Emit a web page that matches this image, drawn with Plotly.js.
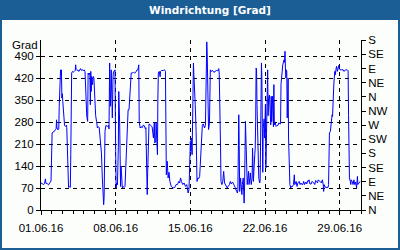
<!DOCTYPE html>
<html>
<head>
<meta charset="utf-8">
<script src="https://cdn.plot.ly/plotly-3.0.1.min.js"></script>
<style>
html,body{margin:0;padding:0;background:#ffffff;}
#chart{width:400px;height:250px;}
</style>
</head>
<body>
<div id="chart"></div>
<script>
// hours since 01.06.2016 00:00
const hours = [0,3,6,8,10,11,14,17,19,21,
22.5,23.5,25,27,30,32,34,35,36,38,
40,41,42,43,44,45,46,47,48,49,
50,51,52,53,55,57,58,60,61,62,
64,66,67,68,69,71,73,75,77,78,
79,81,83,85,87,89,91,93,95,97,
99,100,101,103,105,106,108,110,111,112,
113,114,116,117,118,119,121,123,125,127,
129,131,133,134,136,138,140,141,142,143,
144,146,149,152,153,154.5,156,157,158,159,
160.5,162,163,165,166.5,168,169,170,172,174,
175,176,177,178,179,180,181,183,185,187,
189,191,193,194,196,198,199,200,202,203,
205,208,211,214,216,218,220,221,223,225,
228,230,232,235,236,237,238,239,240,241,
242,243,247,250,253,254,255,256,258,259,
260,262,263,264,266,268,269,271,275,278,
280,281,282,284,286,288,290,293,297,301,
304,307,310,312,314,316,319,322,325,328,
331,333,335,336,337,338,340,341,343,344,
346,347,349,350,351,353,355,357,359,361,
363,365,366,368,370,371,372,373,374,375,
376,377,379,380,381,383,386,389,392,395,
398,400,401,403,404,405,407,409,411,413,
416,419,421,424,426,428,431,434,437,440,
442,443,445,446,447,449,450,452,453,455,
457,458,460,461,463,464,467,468,470,471,
473,475,476,478,479,481,482,483,484,485,
486,488,490,492,493,494,495,496,497,498,
499,500,502,503,505,506,507,508,509,510,
511,512,514,515,517,518,519,521,523,524,
525,527,529,531,533,535,537,539,540,542,
544,545,547,548,549,550,551,552,553,554,
555,556,557,559,560,562,563,566,568,570,
571,574,576,578,581,583,585,587,589,591,
593,596,598,600,601,603,605,608,610,612,
614,616,618,620,622,624,627,629,631,633,
635,636,637,640,643,646,647,648,649,651,
652,653,655,656,657,658,659,661,662,664,
665,667,668,670,671,673,676,680,682,685,
689,691,692,694,696,697,698,700,702,704,
706,708,710,712,713,716,718];

// wind direction in degrees
const direction = [86,83,81,85,99,85,84,80,83,89,
92,197,245,248,250,255,258,287,261,255,
258,330,393,420,446,430,446,356,370,346,
330,319,280,269,266,270,262,165,100,72,
74,72,176,320,436,441,439,441,444,462,
447,444,446,441,446,450,444,447,443,446,
441,409,356,298,282,436,430,436,335,441,
377,425,399,420,425,420,335,300,282,261,
265,262,229,218,181,102,49,17,40,150,
250,269,266,269,258,468,330,377,446,300,
293,420,440,441,446,187,70,85,80,200,
377,346,277,176,75,139,120,70,75,72,
75,144,218,271,319,319,351,377,425,436,
436,438,436,440,446,446,462,282,261,265,
262,270,269,258,262,200,110,49,120,230,
262,274,269,265,229,262,280,213,220,277,
230,176,356,436,441,424,441,444,444,446,
441,197,112,155,102,120,91,75,70,72,
81,81,91,86,102,91,81,86,75,81,
54,65,155,218,187,229,176,399,468,431,
378,335,250,197,91,102,100,107,176,250,
269,274,265,261,270,409,526,535,494,335,
261,256,275,356,446,441,444,438,441,444,
443,450,436,330,197,91,81,91,123,86,
75,70,75,81,91,83,89,81,72,59,
54,65,303,206,59,102,70,49,81,102,
22,70,282,197,102,81,123,81,102,118,
81,102,197,91,123,176,197,282,452,446,
335,218,102,86,91,208,400,468,420,229,
120,260,290,229,335,134,250,280,441,446,
300,356,366,314,271,362,281,362,265,399,
271,277,266,269,269,277,274,274,400,452,
462,468,478,470,505,452,420,446,441,293,
420,420,229,118,81,70,75,75,81,112,
81,91,75,86,91,81,86,81,81,91,
81,89,83,93,91,96,83,83,91,88,
86,81,94,91,86,96,91,91,86,96,
81,59,81,72,72,72,81,176,245,250,
266,287,303,298,335,400,404,441,430,450,
457,441,452,460,452,446,446,446,441,446,
446,443,300,102,91,81,96,91,81,96,
81,89,70,107,81,86,91];

const leftTicks = [0,70,140,210,280,350,420,490];
const compassVals = [0,45,90,135,180,225,270,315,360,405,450,495,540];
const compassText = ["N","NE","E","SE","S","SW","W","NW","N","NE","E","SE","S"];
const titleText = "Windrichtung [Grad]";
const unitText = "Grad";

const startMs = Date.UTC(2016,5,1,0,0,0);
function toStr(ms){ return new Date(ms).toISOString().slice(0,19).replace('T',' '); }
const xs = hours.map(h => toStr(startMs + h*3600000));

const yr = [0, 541];
const font = {family:"Liberation Sans, Arial, sans-serif", size:11.5, color:"#000000"};

const trace = {
  x: xs, y: direction, type: 'scatter', mode: 'lines',
  line: {color:'#0000ff', width:1, shape:'linear'},
  hoverinfo: 'skip', showlegend:false
};
const trace2 = {x:[xs[0]], y:[0], yaxis:'y2', type:'scatter', mode:'lines', line:{width:0}, showlegend:false, hoverinfo:'skip'};

const layout = {
  width:400, height:250,
  margin:{l:41, r:39, t:40, b:40, pad:0},
  paper_bgcolor:'#1b5e96',
  plot_bgcolor:'rgba(0,0,0,0)',
  font: font,
  title:{text:titleText, xref:'container', yref:'container', x:0.525, y:0.96, xanchor:'center', yanchor:'middle',
         font:{family:"DejaVu Sans, Verdana, sans-serif", size:10.5, color:'#ffffff', weight:'bold'}},
  shapes:[{type:'rect', xref:'paper', yref:'paper', x0:-39/320, x1:357/320, y0:-38/170, y1:190/170,
           fillcolor:'#fcfefc', line:{width:0}, layer:'below'}],
  xaxis:{type:'date', range:[toStr(startMs), toStr(startMs+30*86400000)],
         tick0:toStr(startMs), dtick:7*86400000, tickformat:'%d.%m.%y',
         ticks:'outside', ticklen:4, tickcolor:'#000', showline:true, linecolor:'#000', linewidth:1,
         showgrid:true, gridcolor:'#000', griddash:'4px,4px', gridwidth:1, zeroline:false,
         ticklabelstandoff:3,
         minor:{dtick:86400000, tick0:toStr(startMs), ticks:'outside', ticklen:3, tickcolor:'#000', showgrid:false},
         tickfont:font, fixedrange:true},
  yaxis:{range:yr, tickmode:'array', tickvals:leftTicks, ticks:'outside', ticklen:4, tickcolor:'#000',
         showline:true, linecolor:'#000', linewidth:1, showgrid:true, gridcolor:'#000', griddash:'4px,4px', gridwidth:1,
         zeroline:false, tickfont:font, fixedrange:true},
  yaxis2:{range:yr, overlaying:'y', side:'right', tickmode:'array', tickvals:compassVals, ticktext:compassText,
          ticks:'outside', ticklen:4, tickcolor:'#000', showline:true, linecolor:'#000', linewidth:1,
          showgrid:false, zeroline:false, tickfont:font, fixedrange:true},
  annotations:[{text:unitText, xref:'paper', yref:'paper', x:(25-41)/320, y:(210-44.5)/170,
                xanchor:'center', yanchor:'middle', showarrow:false, font:font}]
};

Plotly.newPlot('chart', [trace, trace2], layout, {staticPlot:true, displayModeBar:false});
</script>
</body>
</html>
